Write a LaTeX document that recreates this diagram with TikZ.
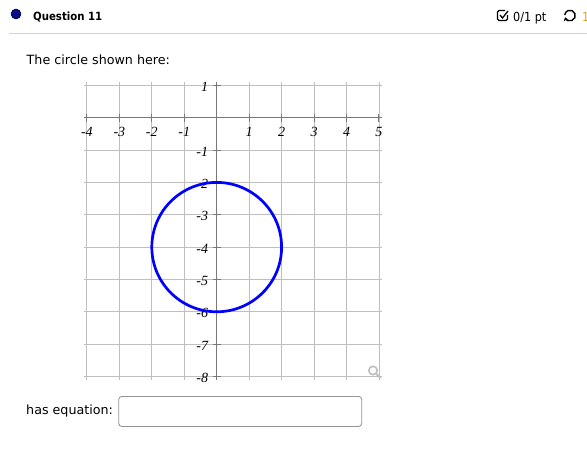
\documentclass[tikz,border=0pt]{standalone}
\usepackage{fontspec}
\setmainfont{DejaVu Sans}
\newfontfamily\condfont{DejaVu Sans Condensed}
\newfontfamily\axisfont{Liberation Serif}
\usetikzlibrary{arrows.meta}
\definecolor{navydot}{RGB}{10,10,140}
\definecolor{gridc}{RGB}{190,190,190}
\definecolor{axisc}{RGB}{120,120,120}
\definecolor{boxc}{RGB}{150,150,150}
\definecolor{rulec}{RGB}{210,210,210}
\definecolor{orangec}{RGB}{230,160,20}
\tikzset{
  ui/.style={font=\fontsize{12.7}{16}\selectfont, inner sep=0pt, anchor=base west},
  gridline/.style={draw=gridc, line width=0.9pt},
  axisline/.style={draw=axisc, line width=1.3pt},
  ticklab/.style={font=\axisfont\itshape\fontsize{14}{16}\selectfont, inner sep=0pt},
  curve/.style={draw=blue, line width=2.7pt},
}
\begin{document}
\begin{tikzpicture}[x=1pt,y=-1pt]
\useasboundingbox (0,0) rectangle (587,453);
\clip (0,0) rectangle (587,453);
\fill[white] (0,0) rectangle (587,453);
% header
\node[circle, fill=navydot, draw=black, line width=0.5pt, minimum size=10pt, inner sep=0pt] (dot) at (16,14) {};
\node[ui, font=\condfont\bfseries\fontsize{11.3}{14}\selectfont] (qtitle) at (33,20) {Question 11};
\draw[rulec, line width=1pt] (9,33) -- (587,33);
% score area
\draw[line width=1.3pt, rounded corners=1.5pt] (505,10.5) -- (497.5,10.5) -- (497.5,20.5) -- (507.5,20.5) -- (507.5,15);
\draw[line width=1.3pt] (500,15) -- (502.5,18) -- (508,11);
\node[ui, font=\condfont\fontsize{12.5}{15}\selectfont] (score) at (513,21) {0/1 pt};
\draw[line width=1.4pt, {Stealth[length=3.5pt,width=5pt]}-] (570,15.5) ++(160:5.3) arc[start angle=160, end angle=-175, radius=5.3];
\node[ui, text=orangec, font=\condfont\fontsize{12.5}{15}\selectfont] (tries) at (582,21) {1};
% prompt
\node[ui] (intro) at (26.5,64) {The circle shown here:};
% graph
\begin{scope}[shift={(216.7,117.7)}, x=32.45pt, y=32.35pt]
  \foreach \i in {-4,...,5} \draw[gridline] (\i,-8.1) -- (\i,1.1);
  \foreach \j in {-8,...,1} \draw[gridline] (-4.1,\j) -- (5.1,\j);
  \draw[axisline] (-4.1,0) -- (5.1,0);
  \draw[axisline] (0,-8.1) -- (0,1.1);
  \foreach \i in {-4,...,-1,1,2,...,5} {
    \draw[axisline, line width=1pt] (\i,0.12) -- (\i,-0.12);
    \node[ticklab] (xl\i) at (\i,-0.44) {\i};
  }
  \foreach \j in {-8,...,-1,1} {
    \draw[axisline, line width=1pt] (-0.12,\j) -- (0.12,\j);
    \node[ticklab, anchor=east] (yl\j) at (-0.26,\j-0.05) {\j};
  }
  \coordinate (ctr) at (0,-4);
  \draw[curve] (ctr) circle[radius=2];
\end{scope}
% zoom icon
\draw[gray!50, line width=1.6pt] (373,370.5) circle[radius=4.2];
\draw[gray!50, line width=2pt] (376.2,373.7) -- (380.5,378);
% answer
\node[ui] (eqlabel) at (26,414) {has equation:};
\node[draw=boxc, line width=0.9pt, rounded corners=3pt, minimum width=243pt, minimum height=30pt, anchor=north west, inner sep=0pt] (answer) at (118.3,396) {};
\end{tikzpicture}
\end{document}
